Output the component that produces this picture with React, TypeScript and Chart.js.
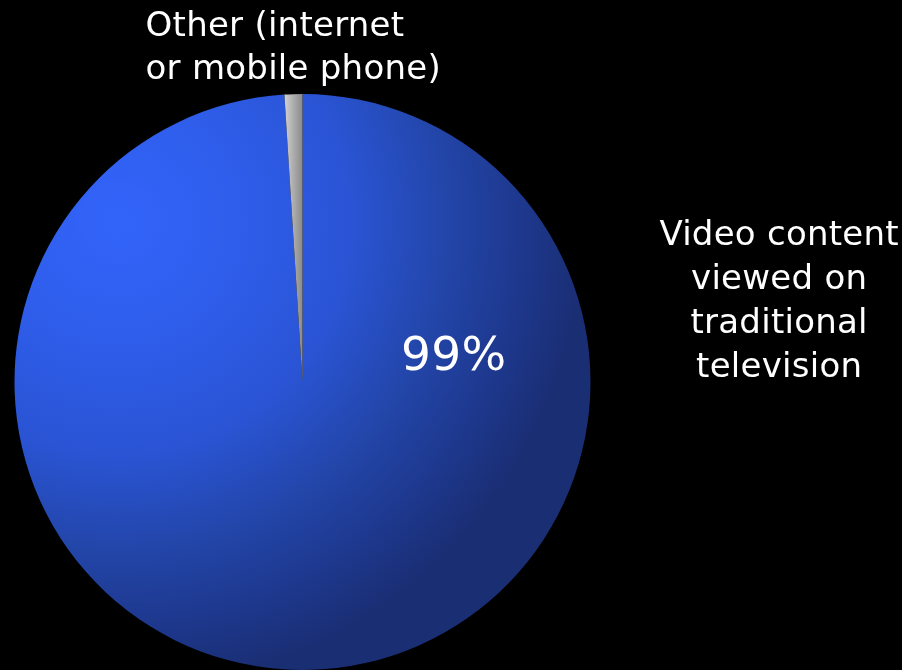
import React, { useEffect, useRef } from "react";
import { Chart, registerables } from "chart.js";

Chart.register(...registerables);

const categories = ["Video content viewed on traditional television", "Other (internet or mobile phone)"];
const values = [99, 1];
const valueLabel = "99%";
const rightLabelLines = ["Video content", "viewed on", "traditional", "television"];
const topLabelLines = ["Other (internet", "or mobile phone)"];

const FONT = "'DejaVu Sans', sans-serif";

const labelPlugin = {
  id: "labels",
  afterDraw(chart: any) {
    const ctx = chart.ctx;
    const arc = chart.getDatasetMeta(0).data[0];
    if (!arc) return;
    const cx = arc.x, cy = arc.y, r = arc.outerRadius;
    ctx.save();
    ctx.fillStyle = "#ffffff";
    ctx.textBaseline = "alphabetic";
    try { (ctx as any).letterSpacing = "0.25px"; } catch (e) {}
    // value label
    ctx.font = `47px ${FONT}`;
    ctx.textAlign = "center";
    ctx.fillText(valueLabel, cx + r * 0.525, cy - r * 0.04);
    // right label
    ctx.font = `34px ${FONT}`;
    ctx.textAlign = "center";
    rightLabelLines.forEach((l, i) => ctx.fillText(l, cx + r * 1.655, cy - r * 0.475 + i * 44));
    // top label
    ctx.textAlign = "left";
    topLabelLines.forEach((l, i) => ctx.fillText(l, cx - r * 0.545, cy - r * 1.2 + i * 43));
    ctx.restore();
  },
};

export default function App() {
  const ref = useRef<HTMLCanvasElement>(null);
  useEffect(() => {
    const canvas = ref.current!;
    const chart = new Chart(canvas, {
      type: "pie",
      data: {
        labels: categories,
        datasets: [
          {
            data: values,
            borderWidth: 0,
            backgroundColor: (c: any) => {
              const ch = c.chart;
              const area = ch.chartArea;
              if (!area) return "#2244aa";
              const ctx = ch.ctx;
              if (c.dataIndex === 0) {
                const gx = area.left + area.width * 0.18;
                const gy = area.top + area.height * 0.22;
                const g = ctx.createRadialGradient(gx, gy, 0, gx, gy, area.width * 0.81);
                g.addColorStop(0, "#3364fa");
                g.addColorStop(0.25, "#2f5eec");
                g.addColorStop(0.5, "#2a54d4");
                g.addColorStop(0.7, "#2346aa");
                g.addColorStop(0.85, "#1e3990");
                g.addColorStop(1, "#1a2e74");
                return g;
              }
              const cx = (area.left + area.right) / 2;
              const g = ctx.createLinearGradient(cx - 20, 0, cx, 0);
              g.addColorStop(0, "#707070");
              g.addColorStop(0.12, "#d0d0d0");
              g.addColorStop(0.5, "#b0b0b0");
              g.addColorStop(1, "#8a8a8a");
              return g;
            },
          },
        ],
      },
      options: {
        animation: false,
        responsive: false,
        maintainAspectRatio: false,
        layout: { padding: { left: 14, top: 94, right: 311, bottom: 0 } },
        plugins: { legend: { display: false }, tooltip: { enabled: false } },
      },
      plugins: [labelPlugin],
    });
    return () => chart.destroy();
  }, []);
  return (
    <div style={{ position: "fixed", left: 0, top: 0, width: 902, height: 670, background: "#000" }}>
      <canvas ref={ref} width={902} height={670} style={{ display: "block", width: 902, height: 670 }} />
    </div>
  );
}
